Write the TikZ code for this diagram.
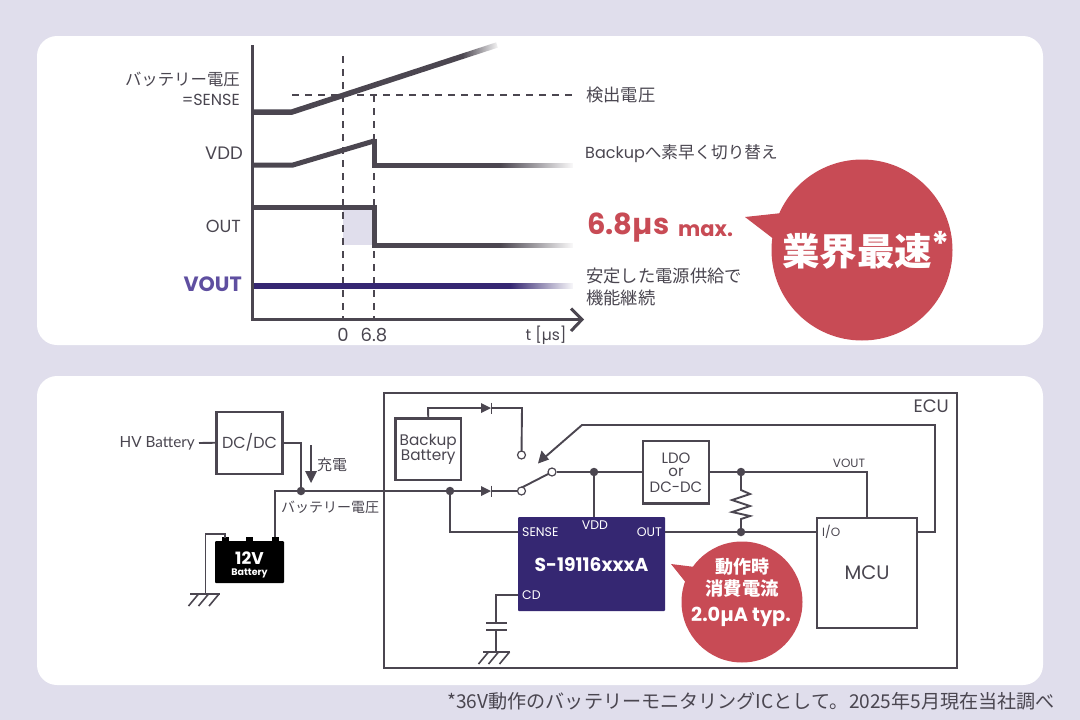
\documentclass[tikz,border=0pt]{standalone}
\usepackage{fontspec}
\usetikzlibrary{fadings}
\setmainfont{Poppins}
\newfontfamily\jp{Noto Sans CJK JP}
\newfontfamily\lato{Lato}
\definecolor{bgc}{HTML}{E0DEEC}
\definecolor{ink}{HTML}{4B4650}
\definecolor{txt}{HTML}{4A4650}
\definecolor{redc}{HTML}{C84B55}
\definecolor{navy}{HTML}{352772}
\definecolor{vio}{HTML}{5F4FA0}
\newcommand{\fs}[1]{\fontsize{#1}{#1}\selectfont}
\tikzfading[name=fadeout,left color=transparent!100,right color=transparent!0]
\tikzset{
  lab/.style={text=txt,inner sep=0pt,font=\jp\fs{17.3}},
  latin/.style={text=txt,inner sep=0pt,font=\fs{16}},
  small/.style={text=txt,inner sep=0pt,font=\fs{12}},
  wire/.style={draw=ink,line width=1.9pt},
  boxn/.style={draw=ink,line width=2.1pt,fill=white,inner sep=0pt},
  dotn/.style={circle,fill=ink,inner sep=0pt,minimum size=8.5pt},
  opn/.style={circle,draw=ink,line width=1.2pt,fill=white,inner sep=0pt,minimum size=8pt},
  sig/.style={draw=ink,line width=5pt},
  dsh/.style={draw=ink,line width=1.5pt,dash pattern=on 7pt off 6pt},
  wht/.style={text=white,inner sep=0pt,font=\bfseries},
  diode/.style={fill=ink,draw=none},
  gnd/.style={draw=ink,line width=1.6pt},
  fadebox/.style={fill=white,path fading=fadeout},
}
\begin{document}
\begin{tikzpicture}[x=1pt,y=-1pt,line join=miter]
\useasboundingbox (0,0) rectangle (1080,720);
\fill[bgc] (0,0) rectangle (1080,720);
\fill[white,rounded corners=20pt] (37,36) rectangle (1043,345);
\fill[white,rounded corners=20pt] (37,376) rectangle (1043,685);

% --- timing chart
\fill[bgc] (343,207) rectangle (374,245);
\draw[dsh] (343,56) -- (343,319);
\draw[dsh] (374,95) -- (374,319);
\draw[dsh] (292,95) -- (573,95);
% signals
\draw[sig,line width=5.5pt] (252,112) -- (292,112) -- (497,45);
\fill[fadebox] (462,38) rectangle (500,62);
\draw[sig] (252,165) -- (293,165) -- (374,141);
\draw[sig] (374,138.5) -- (374,165) -- (573,165);
\fill[fadebox] (500,160) rectangle (575,170);
\draw[sig] (252,207) -- (374,207) -- (374,245) -- (573,245);
\fill[fadebox] (500,240) rectangle (575,250);
\draw[draw=navy,line width=5.5pt] (252,286) -- (573,286);
\fill[fadebox] (510,281) rectangle (575,291);
% axes
\draw[draw=ink,line width=3pt] (252,45) -- (252,319) -- (581,319);
\draw[draw=ink,line width=3pt] (571,308.5) -- (582,319.5) -- (571,331);

\node[lab,anchor=east,font=\jp\fs{16.4}] (vb1) at (240,79) {バッテリー電圧};
\node[latin,anchor=east] (vb2) at (240,100) {=SENSE};
\node[latin,anchor=east,font=\fs{18}] (vddl) at (243,153) {VDD};
\node[latin,anchor=east,font=\fs{17.5}] (outl) at (241,226) {OUT};
\node[anchor=east,inner sep=0pt,text=vio,font=\bfseries\fs{20.7}] (voutl) at (242,284) {VOUT};
\node[latin,font=\fs{18}] (t0) at (343,335) {0};
\node[latin,font=\fs{18}] (t68) at (374,335) {6.8};
\node[latin,font=\fs{15.5}] (tu) at (546,335) {t [µs]};
\node[lab,anchor=west] (det) at (586,95) {検出電圧};
\node[lab,anchor=west,font=\jp\fs{16.6}] (bk) at (585,154) {{\fs{16}\rmfamily Backup}へ素早く切り替え};
\node[anchor=west,inner sep=0pt,text=redc,font=\bfseries\fs{29}] (spd) at (587,228) {6.8µs};
\node[anchor=west,inner sep=0pt,text=redc,font=\bfseries\fs{21}] (mx) at (678,231) {max.};
\node[lab,anchor=west] (st1) at (586,276) {安定した電源供給で};
\node[lab,anchor=west] (st2) at (586,298) {機能継続};

% big bubble
\fill[redc] (745,217) -- (782,213) -- (775,240) -- cycle;
\node[circle,fill=redc,minimum size=181pt,inner sep=0pt] (bub) at (862,250) {};
\node[wht,font=\jp\bfseries\fs{37.5}] (fast) at (857,251) {業界最速};
\node[wht,font=\bfseries\fs{34}] (star) at (941,244) {*};

% --- circuit
\node[boxn,minimum width=66pt,minimum height=62pt] (ecuA) at (249.5,442.75) {};
\node[text=txt,inner sep=0pt,font=\fs{16}] at (ecuA) {DC/DC};
\draw[draw=ink,line width=2.1pt] (384,393) rectangle (957,668);
\node[latin,anchor=east,font=\fs{18}] (ecu) at (949,406) {ECU};
\node[anchor=east,text=txt,inner sep=0pt,font=\lato\fs{15.3}] (hv) at (195,443) {HV Battery};
\coordinate (j1) at (301,491);
\coordinate (j2) at (450,491);
\coordinate (batp) at (275,538);
\coordinate (batn) at (225,538);
\draw[wire] (hv.east) ++(4,0) -- (ecuA.west);
\draw[wire] (ecuA.east |- 0,443) -- (301,443) -- (j1);
\draw[wire] (batp) -- (275,491) -- (j1) -- (j2) -- (481,491);
\draw[wire] (491,491) -- (517.5,491);
\draw[wire] (j2) -- (450,532) -- (518,532);
\node[dotn] at (j1) {};
\node[dotn] at (j2) {};
\coordinate (a1) at (311,445); \coordinate (a2) at (311,483);
\draw[draw=ink,line width=1.6pt] (a1) -- (311,472);
\fill[ink] (305,471) -- (317,471) -- (a2) -- cycle;
\node[lab,anchor=west,font=\jp\fs{15}] (chg) at (317,465) {充電};
\node[lab,anchor=west,font=\jp\fs{14}] (bv) at (281,507) {バッテリー電圧};

% 12V battery
\fill[black] (225,537) ++(-3.5,0) rectangle ++(7,5);
\fill[black] (249,537) ++(-3.5,0) rectangle ++(7,5);
\fill[black] (275,537) ++(-3.5,0) rectangle ++(7,5);
\fill[black,rounded corners=1pt] (215,541) rectangle (284,583);
\node[inner sep=0pt,minimum width=69pt,minimum height=42pt] (bat) at (249.5,562) {};
\node[wht,font=\bfseries\fs{17}] at (249.5,558) {12V};
\node[wht,font=\bfseries\fs{9.5}] at (249.5,573.5) {Battery};
% ground 1
\draw[wire] (batn) -- (225,534) -- (205.5,534) -- (205.5,594);
\draw[wire] (190,594) -- (219.5,594);
\foreach \x in {198.5,208.5,219}{\draw[gnd] (\x,594) -- ++(-10,12);}

% backup
\node[boxn,minimum width=65.5pt,minimum height=61.5pt,align=center,text=txt,font=\fs{15.3}] (bb) at (428.25,449.25) {\baselineskip=15pt Backup\\Battery};
\coordinate (sw1) at (521.5,455);
\coordinate (sw2) at (521.5,491);
\coordinate (sw3) at (552,472);
\draw[wire] (bb.north) -- (428,408) -- (481,408);
\draw[wire] (491,408) -- (522,408) -- (sw1);
\fill[diode] (481,403) -- (491,408) -- (481,413) -- cycle;
\draw[wire] (491.5,402.5) -- (491.5,413.5);
\fill[diode] (481,486) -- (491,491) -- (481,496) -- cycle;
\draw[wire] (491.5,485.5) -- (491.5,496.5);
\draw[wire] (518,489.5) -- (sw3);
\node[opn] (sa) at (sw1) {};
\node[opn] (sb) at (sw2) {};
\node[opn] (sc) at (sw3) {};

% chip
\node[fill=navy,rounded corners=1pt,minimum width=147pt,minimum height=94pt,inner sep=0pt] (chip) at (591.5,564) {};
\node[text=white,inner sep=0pt,anchor=west,font=\fs{12.5}] at (522,532) {SENSE};
\node[text=white,inner sep=0pt,font=\fs{12.5}] at (595,525) {VDD};
\node[text=white,inner sep=0pt,anchor=east,font=\fs{12.5}] at (662,532) {OUT};
\node[text=white,inner sep=0pt,anchor=west,font=\fs{12.5}] at (522,595) {CD};
\node[wht,font=\bfseries\fs{18.7}] at (591.5,565) {S-19116xxxA};
% LDO
\node[boxn,minimum width=66pt,minimum height=62.5pt] (ldo) at (676,472.25) {};
\node[text=txt,inner sep=0pt,font=\fs{15}] at (676,458.5) {LDO};
\node[text=txt,inner sep=0pt,font=\fs{15}] at (676,472.5) {or};
\node[text=txt,inner sep=0pt,font=\fs{15}] at (676,487.5) {DC-DC};
% MCU
\node[boxn,minimum width=100pt,minimum height=110pt] (mcu) at (867,573) {};
\node[text=txt,inner sep=0pt,font=\fs{19.5}] at (867,573) {MCU};
\node[small,anchor=west] at (822,532) {I/O};
\coordinate (j3) at (594,472);
\coordinate (j4) at (741,472);
\coordinate (j5) at (741,532);
\draw[wire] (sc.east) -- (ldo.west |- sc.east);
\draw[wire] (j3) -- (594,517);
\draw[wire] (ldo.east |- j4) -- (867,472) -- (867,517.5);
\draw[wire] (j4) -- (741,490) -- (750,494) -- (732,500) -- (750,506) -- (732,512) -- (750,516) -- (741,519) -- (j5);
\draw[wire] (665,532) -- (817,532);
\draw[wire] (917,532) -- (935,532) -- (935,425) -- (582,425) -- (544,458);
\fill[ink] (538,463.5) -- (541.5,450.5) -- (549,459.5) -- cycle;
\node[dotn] at (j3) {};
\node[dotn] at (j4) {};
\node[dotn] at (j5) {};
\node[small] at (849,463) {VOUT};
% CD cap & ground
\coordinate (cap1) at (496,623);
\coordinate (cap2) at (496,630);
\draw[wire] (518,595) -- (496,595) -- (cap1);
\draw[wire] (486,623) -- (507,623);
\draw[wire] (486,630) -- (507,630);
\draw[wire] (cap2) -- (496,652);
\draw[wire] (483,652) -- (510,652);
\foreach \x in {488.5,498.5,509.5}{\draw[gnd] (\x,652) -- ++(-10,12);}

% small bubble
\fill[redc] (671,564) -- (695,567) -- (687,584) -- cycle;
\node[circle,fill=redc,minimum size=121pt,inner sep=0pt] (bub2) at (742,602) {};
\node[wht,font=\jp\bfseries\fs{18}] at (742,567) {動作時};
\node[wht,font=\jp\bfseries\fs{18.3}] at (742,589) {消費電流};
\node[wht,font=\bfseries\fs{19.3}] at (741,617) {2.0µA typ.};

% footer
\node[lab,anchor=east,font=\jp\fs{19.1}] (foot) at (1055,701) {*36V動作のバッテリーモニタリングICとして。2025年5月現在当社調べ};
\end{tikzpicture}
\end{document}
